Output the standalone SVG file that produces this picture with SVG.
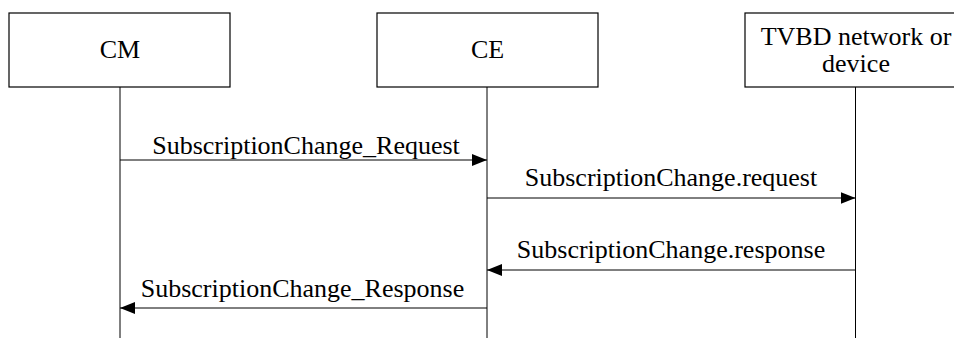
<svg xmlns="http://www.w3.org/2000/svg" width="954" height="338" viewBox="0 0 954 338">
<defs>
<style>
.box{fill:#fff;stroke:#000;stroke-width:1.2}
.life{stroke:#000;stroke-width:1;fill:none}
.msg{stroke:#000;stroke-width:1;fill:none}
.t{font-family:"Liberation Serif","Times New Roman",serif;font-size:26px;fill:#000;text-anchor:middle}
</style>
<marker id="ah" markerWidth="15" markerHeight="12" refX="15" refY="6" orient="auto" markerUnits="userSpaceOnUse">
<path d="M0,0 L15,6 L0,12 Z" fill="#000"/>
</marker>
</defs>
<rect width="954" height="338" fill="#fff"/>
<g id="lifelines">
<line class="life" x1="120" y1="87" x2="120" y2="338"/>
<line class="life" x1="487" y1="87" x2="487" y2="338"/>
<line class="life" x1="855.5" y1="87" x2="855.5" y2="338"/>
</g>
<g id="node-cm">
<rect class="box" x="9" y="13" width="221" height="74"/>
<text class="t" x="120" y="58">CM</text>
</g>
<g id="node-ce">
<rect class="box" x="377" y="13" width="221" height="74"/>
<text class="t" x="487.5" y="58">CE</text>
</g>
<g id="node-tvbd">
<rect class="box" x="745" y="13" width="222" height="74"/>
<text class="t" x="856" y="45">TVBD network or</text>
<text class="t" x="856" y="72">device</text>
</g>
<g id="connectors">
<line class="msg" x1="120" y1="160" x2="487" y2="160" marker-end="url(#ah)"/>
<text class="t" x="306" y="154">SubscriptionChange_Request</text>
<line class="msg" x1="487" y1="198" x2="855.5" y2="198" marker-end="url(#ah)"/>
<text class="t" x="671" y="186">SubscriptionChange.request</text>
<line class="msg" x1="855.5" y1="270" x2="487" y2="270" marker-end="url(#ah)"/>
<text class="t" x="671" y="258">SubscriptionChange.response</text>
<line class="msg" x1="487" y1="308" x2="120" y2="308" marker-end="url(#ah)"/>
<text class="t" x="302.5" y="297">SubscriptionChange_Response</text>
</g>
</svg>
